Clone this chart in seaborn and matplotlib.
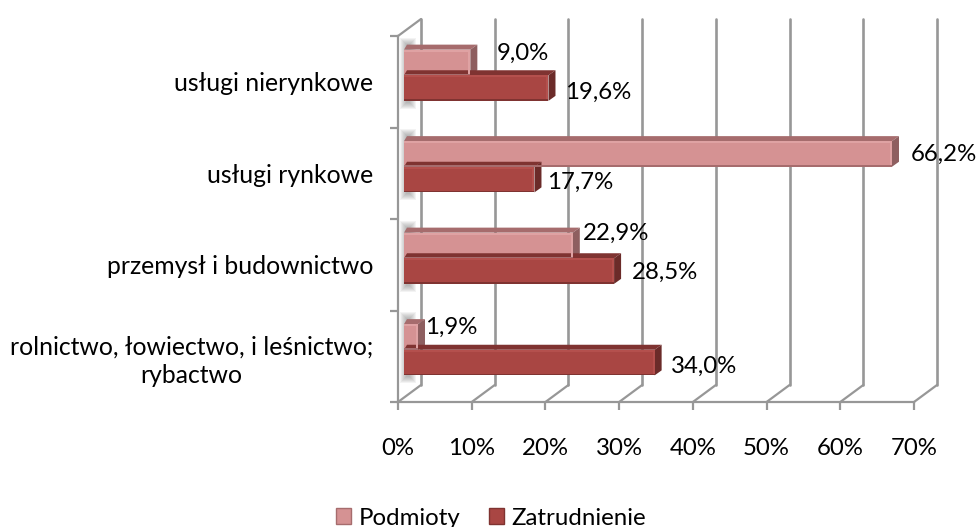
import pandas as pd
import seaborn as sns
import matplotlib.pyplot as plt
from matplotlib.patches import Patch, Polygon, Rectangle
from matplotlib.transforms import Affine2D

categories = ['usługi nierynkowe', 'usługi rynkowe', 'przemysł i budownictwo',
              'rolnictwo, łowiectwo, i leśnictwo;\nrybactwo']
podmioty = [9.0, 66.2, 22.9, 1.9]
zatrudnienie = [19.6, 17.7, 28.5, 34.0]
x_ticks = [0, 10, 20, 30, 40, 50, 60, 70]

# przesuniecia etykiet wzgledem konca slupka (piksele)
label_shift_p = [(32, 16), (25, 6), (16, 19), (13, 16)]
label_shift_z = [(23, 2), (19, 4), (24, 5), (22, 3)]

W, H = 976, 527
GRID = '#979797'
FS = 17.3
sns.set_theme(style='white')
plt.rcParams['font.family'] = ['Lato', 'DejaVu Sans']
plt.rcParams['font.size'] = FS

df = pd.DataFrame({
    'kategoria': categories * 2,
    'seria': ['Podmioty'] * 4 + ['Zatrudnienie'] * 4,
    'wartosc': podmioty + zatrudnienie,
})

fig = plt.figure(figsize=(W / 100, H / 100), dpi=100)
ax = fig.add_axes([398 / W, 1 - 402 / H, 516 / W, 366 / H])

colors = {'Podmioty': '#D59293', 'Zatrudnienie': '#A94643'}
sns.barplot(data=df, y='kategoria', x='wartosc', hue='seria', palette=colors,
            width=0.56, saturation=1, legend=False, ax=ax, zorder=5)
ax.set_xlim(0, 70)
ax.set_ylim(3.5, -0.5)
ax.set_xlabel('')
ax.set_ylabel('')

for s in ['top', 'right']:
    ax.spines[s].set_visible(False)
for s in ['left', 'bottom']:
    ax.spines[s].set_color(GRID)
    ax.spines[s].set_linewidth(1.6)

ax.set_xticks(x_ticks)
ax.set_xticklabels([f'{t}%' for t in x_ticks], fontsize=FS)
ax.set_yticks([-0.5, 0.5, 1.5, 2.5, 3.5])
ax.set_yticklabels([])
ax.set_yticks([0, 1, 2, 3], labels=categories, minor=True, multialignment='center',
              fontsize=17.8, linespacing=1.3)
ax.tick_params(axis='x', length=6, width=1.6, color=GRID, pad=20, bottom=True)
ax.tick_params(axis='y', which='major', length=6, width=1.6, color=GRID, left=True)
ax.tick_params(axis='y', which='minor', length=0, pad=18)
ax.tick_params(axis='both', which='both', labelcolor='black')

# tylna sciana i podloga
back = ax.transData + Affine2D().translate(23, 17)
tr = ax.transData
ymin, ymax = 3.5, -0.5
for t in x_ticks:
    ax.plot([t, t], [ymin, ymax], color=GRID, lw=1.9, transform=back, clip_on=False, zorder=1)
    x0, y0 = tr.transform((t, ymin))
    fig.add_artist(plt.Line2D([x0, x0 + 23], [y0, y0 + 17], color=GRID, lw=1.6,
                              transform=None, zorder=1))
x0, y0 = tr.transform((0, ymax))
fig.add_artist(plt.Line2D([x0, x0 + 23], [y0, y0 + 17], color=GRID, lw=1.6,
                          transform=None, zorder=1))

# slupki z efektem 3D
shift = Affine2D().translate(6, 6.5)
dark_top = {0: '#A66C6D', 1: '#7F3331'}
dark_side = {0: '#8E5F60', 1: '#6B2B29'}
light = {0: '#DFA2A3', 1: '#B4504D'}
DX, DY = 7, 5
for i, cont in enumerate(ax.containers):
    for bar in cont:
        bar.set_transform(ax.transData + shift)
        bar.set_clip_on(False)
        bar.set_linewidth(0)
        xa, ya = (ax.transData + shift).transform((bar.get_x(), bar.get_y() + bar.get_height()))
        xb, yb = (ax.transData + shift).transform((bar.get_x() + bar.get_width(), bar.get_y()))
        top = Polygon([(xa, yb), (xb, yb), (xb + DX, yb + DY), (xa + 3, yb + DY)], closed=True,
                      transform=None, color=dark_top[i], lw=0, zorder=5, clip_on=False)
        side = Polygon([(xb, ya), (xb + DX, ya + DY), (xb + DX, yb + DY), (xb, yb)], closed=True,
                       transform=None, color=dark_side[i], lw=0, zorder=5, clip_on=False)
        hi = Rectangle((xa, yb - 2), xb - xa, 2, transform=None, color=light[i], lw=0,
                       zorder=6, clip_on=False)
        edge = Rectangle((xb - 2, ya), 2, yb - ya, transform=None, color=light[i], lw=0,
                         zorder=6, clip_on=False)
        low = Rectangle((xa, ya), xb - xa, 1.5, transform=None, color=dark_top[i], lw=0,
                        zorder=6, clip_on=False)
        for a in (top, side, hi, edge, low):
            ax.add_artist(a)

# cien na bocznej scianie, jeden na grupe slupkow
for upper, lower in zip(ax.containers[0], ax.containers[1]):
    xa, yt = (ax.transData + shift).transform((upper.get_x(), upper.get_y()))
    _, yb = (ax.transData + shift).transform((lower.get_x(), lower.get_y() + lower.get_height()))
    for k in range(7):
        ax.add_artist(Rectangle((xa - 4 + k, yb - 8 + k), 16 - 2 * k, yt - yb + 20 - 2 * k,
                                transform=None, color='#555555', alpha=0.07,
                                lw=0, zorder=2, clip_on=False))

# etykiety danych
for cont, vals, shifts in zip(ax.containers, [podmioty, zatrudnienie], [label_shift_p, label_shift_z]):
    for bar, v, (sx, sy) in zip(cont, vals, shifts):
        ax.annotate(f'{v:.1f}%'.replace('.', ','),
                    xy=(bar.get_x() + bar.get_width(), bar.get_y() + bar.get_height() / 2),
                    xytext=(sx, sy), textcoords='offset pixels', va='center', ha='left',
                    color='black', fontsize=FS, zorder=8, annotation_clip=False)

handles = [Patch(facecolor=colors['Podmioty'], edgecolor='#A66C6D', label='Podmioty'),
           Patch(facecolor=colors['Zatrudnienie'], edgecolor='#7F3331', label='Zatrudnienie')]
fig.legend(handles=handles, loc='lower center', bbox_to_anchor=(0.503, -0.044), ncol=2,
           frameon=False, fontsize=FS, handlelength=0.62, handleheight=0.62, handletextpad=0.3,
           columnspacing=1.2, labelcolor='black')

fig.savefig('out.png', dpi=100)
